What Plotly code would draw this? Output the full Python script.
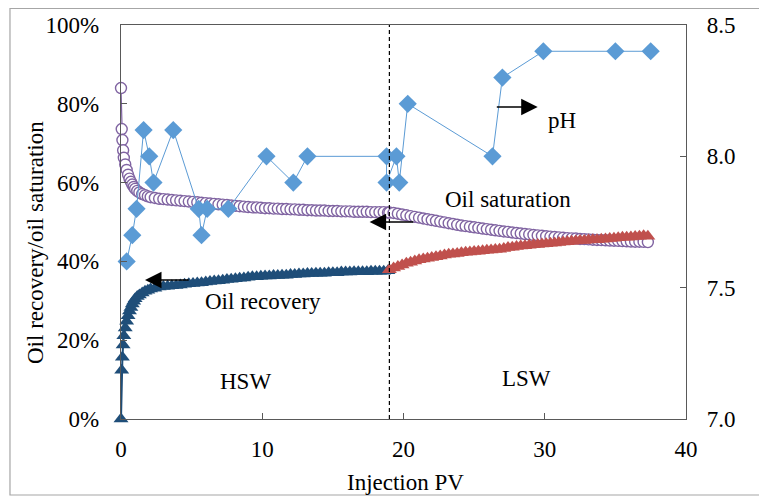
import plotly.graph_objects as go

# ---------------- data ----------------
pv_hsw = [0, 0.05, 0.1, 0.15, 0.2, 0.3, 0.4, 0.5, 0.6, 0.7, 0.8, 0.9, 1.0, 1.15, 1.3, 1.5, 1.7, 1.9, 2.1, 2.4,
          2.7, 3.0, 3.3, 3.6, 3.9, 4.2, 4.5, 4.8, 5.1, 5.4, 5.7, 6.0, 6.3, 6.6, 6.9, 7.2, 7.5, 7.8, 8.1, 8.4,
          8.7, 9.0, 9.3, 9.6, 9.9, 10.2, 10.5, 10.8, 11.1, 11.4, 11.7, 12.0, 12.3, 12.6, 12.9, 13.2, 13.5, 13.8, 14.1, 14.4,
          14.7, 15.0, 15.3, 15.6, 15.9, 16.2, 16.5, 16.8, 17.1, 17.4, 17.7, 18.0, 18.3, 18.6, 18.9]

sat_hsw = [84.0, 73.6, 70.8, 68.2, 66.3, 64.6, 63.2, 62.0, 61.0, 60.2, 59.5, 58.9, 58.4, 57.9, 57.5, 57.1, 56.8, 56.5, 56.3, 56.1,
           55.9, 55.8, 55.7, 55.6, 55.5, 55.4, 55.3, 55.2, 55.1, 55.0, 54.9, 54.8, 54.7, 54.6, 54.5, 54.4, 54.3, 54.2, 54.1, 54.0,
           53.9, 53.8, 53.7, 53.7, 53.6, 53.5, 53.5, 53.4, 53.4, 53.3, 53.3, 53.2, 53.2, 53.1, 53.1, 53.0, 53.0, 52.9, 52.9, 52.9,
           52.8, 52.8, 52.8, 52.7, 52.7, 52.7, 52.6, 52.6, 52.6, 52.6, 52.5, 52.5, 52.5, 52.5, 52.4]

rec_hsw = [0.0, 12.4, 15.7, 18.8, 21.1, 23.1, 24.8, 26.2, 27.4, 28.3, 29.2, 29.9, 30.5, 31.1, 31.5, 32.0, 32.4, 32.7, 33.0, 33.2,
           33.5, 33.6, 33.7, 33.8, 33.9, 34.0, 34.2, 34.3, 34.4, 34.5, 34.6, 34.8, 34.9, 35.0, 35.1, 35.2, 35.4, 35.5, 35.6, 35.7,
           35.8, 36.0, 36.1, 36.1, 36.2, 36.3, 36.3, 36.4, 36.4, 36.5, 36.5, 36.7, 36.7, 36.8, 36.8, 36.9, 36.9, 37.0, 37.0, 37.0,
           37.1, 37.1, 37.1, 37.3, 37.3, 37.3, 37.4, 37.4, 37.4, 37.4, 37.5, 37.5, 37.5, 37.5, 37.6]

pv_lsw = [19.0, 19.3, 19.6, 19.9, 20.2, 20.5, 20.8, 21.1, 21.4, 21.7, 22.0, 22.3, 22.6, 22.9, 23.2, 23.5, 23.8, 24.1, 24.4, 24.7,
          25.0, 25.3, 25.6, 25.9, 26.2, 26.5, 26.8, 27.1, 27.4, 27.7, 28.0, 28.3, 28.6, 28.9, 29.2, 29.5, 29.8, 30.1, 30.4, 30.7,
          31.0, 31.3, 31.6, 31.9, 32.2, 32.5, 32.8, 33.1, 33.4, 33.7, 34.0, 34.3, 34.6, 34.9, 35.2, 35.5, 35.8, 36.1, 36.4, 36.7,
          37.0, 37.3]

sat_lsw = [52.4, 52.3, 52.1, 51.9, 51.7, 51.5, 51.3, 51.1, 50.9, 50.7, 50.5, 50.3, 50.1, 49.9, 49.7, 49.5, 49.3, 49.1, 48.95, 48.8,
           48.65, 48.5, 48.35, 48.2, 48.05, 47.9, 47.75, 47.6, 47.5, 47.35, 47.2, 47.1, 46.95, 46.85, 46.7, 46.6, 46.5, 46.4, 46.3, 46.2,
           46.1, 46.0, 45.9, 45.85, 45.8, 45.7, 45.65, 45.6, 45.5, 45.45, 45.4, 45.35, 45.3, 45.25, 45.2, 45.15, 45.1, 45.05, 45.0, 45.0,
           44.95, 44.9]

rec_lsw = [37.9, 38.3, 38.7, 39.1, 39.5, 39.8, 40.1, 40.4, 40.6, 40.8, 41.0, 41.2, 41.4, 41.6, 41.8, 41.9, 42.0, 42.2, 42.3, 42.4,
           42.5, 42.6, 42.7, 42.8, 42.9, 43.0, 43.1, 43.3, 43.5, 43.6, 43.8, 43.9, 44.0, 44.1, 44.2, 44.3, 44.4, 44.5, 44.6, 44.7,
           44.8, 44.9, 45.0, 45.1, 45.2, 45.3, 45.3, 45.4, 45.5, 45.5, 45.6, 45.7, 45.8, 45.9, 46.0, 46.1, 46.1, 46.2, 46.3, 46.4,
           46.5, 46.4]

pv_ph = [0.4, 0.8, 1.1, 1.6, 2.0, 2.3, 3.7, 5.5, 5.7, 6.1, 7.6, 10.3, 12.2, 13.2, 18.8, 18.8, 19.5, 19.7, 20.3, 26.3,
         27.0, 29.9, 35.0, 37.5]
ph = [7.6, 7.7, 7.8, 8.1, 8.0, 7.9, 8.1, 7.8, 7.7, 7.8, 7.8, 8.0, 7.9, 8.0, 8.0, 7.9, 8.0, 7.9, 8.2, 8.0,
      8.3, 8.4, 8.4, 8.4]

switch_pv = 19.0

x_ticks = [0, 10, 20, 30, 40]
y_ticks = [0, 0.2, 0.4, 0.6, 0.8, 1.0]
ph_ticks = [7.0, 7.5, 8.0, 8.5]

# ---------------- styling ----------------
FONT = "'Liberation Serif', 'Times New Roman', Times, serif"
FS = 23
AX = "#595959"

fig = go.Figure()

circ = dict(symbol="circle", size=11, color="white", line=dict(color="#8064A2", width=1.4))
fig.add_trace(go.Scatter(
    x=pv_hsw, y=[v / 100 for v in sat_hsw], mode="lines+markers", name="Oil saturation HSW",
    line=dict(color="#8064A2", width=1.2), marker=circ, cliponaxis=False))
fig.add_trace(go.Scatter(
    x=pv_lsw, y=[v / 100 for v in sat_lsw], mode="lines+markers", name="Oil saturation LSW",
    line=dict(color="#8064A2", width=1.2), marker=circ, cliponaxis=False))
fig.add_trace(go.Scatter(
    x=pv_hsw, y=[v / 100 for v in rec_hsw], mode="lines+markers", name="Oil recovery HSW",
    line=dict(color="#1F4E79", width=2),
    marker=dict(symbol="triangle-up", size=13, color="#1F4E79"),
    cliponaxis=False))
fig.add_trace(go.Scatter(
    x=pv_lsw, y=[v / 100 for v in rec_lsw], mode="lines+markers", name="Oil recovery LSW",
    line=dict(color="#C0504D", width=2),
    marker=dict(symbol="triangle-up", size=13, color="#C0504D"),
    cliponaxis=False))
fig.add_trace(go.Scatter(
    x=pv_ph, y=ph, mode="lines+markers", name="pH", yaxis="y2",
    line=dict(color="#5B9BD5", width=1),
    marker=dict(symbol="diamond", size=14, color="#5B9BD5"),
    cliponaxis=False))

# dashed switch line
fig.add_shape(type="line", xref="x", yref="paper", x0=switch_pv, x1=switch_pv, y0=0, y1=1,
              line=dict(color="black", width=1.2, dash="4px,3px"))

# outer picture border
fig.add_shape(type="rect", xref="paper", yref="paper", x0=-0.1965, x1=1.3, y0=-0.1929, y1=1.0419,
              line=dict(color="#A6A6A6", width=1.2), fillcolor="rgba(0,0,0,0)", layer="below")

tf = dict(family=FONT, size=FS, color="black")

def arrow(xh, xt, y, yref="y"):
    fig.add_annotation(x=xh, y=y, ax=xt, ay=y, xref="x", yref=yref, axref="x", ayref=yref,
                       showarrow=True, arrowhead=2, arrowsize=2.2, arrowwidth=1.5, arrowcolor="black", text="")

arrow(1.7, 4.9, 0.353)
arrow(17.6, 20.8, 0.50)
arrow(29.5, 26.5, 0.792)

for txt, x, y in [("Oil recovery", 10.05, 0.297), ("Oil saturation", 27.4, 0.556), ("pH", 31.2, 0.757),
                  ("HSW", 8.8, 0.096), ("LSW", 28.7, 0.104)]:
    fig.add_annotation(x=x, y=y, xref="x", yref="y", text=txt, showarrow=False, font=tf,
                       xanchor="center", yanchor="middle")

# axis titles
fig.add_annotation(x=-0.1522, y=0.4467, xref="paper", yref="paper", text="Oil recovery/oil saturation",
                   showarrow=False, textangle=-90, font=tf, xanchor="center", yanchor="middle")
fig.add_annotation(x=0.5044, y=-0.1624, xref="paper", yref="paper", text="Injection PV",
                   showarrow=False, font=tf, xanchor="center", yanchor="middle")
# right axis title (partly cut at the picture edge, as in the reference)
fig.add_annotation(x=1.145, y=0.538, xref="paper", yref="paper", text="pH", showarrow=False,
                   textangle=-90, font=tf, xanchor="center", yanchor="middle")

axis_common = dict(showline=True, linecolor=AX, linewidth=1.3, ticks="inside", ticklen=6, tickcolor=AX,
                   tickwidth=1.3, showgrid=False, zeroline=False, tickfont=tf, automargin=False)

# the page body adds an 8px offset, so the figure is sized to fill the rest of the window
fig.update_layout(
    width=759, height=490,
    margin=dict(l=113, r=81, t=17, b=79, autoexpand=False),
    paper_bgcolor="white", plot_bgcolor="white",
    showlegend=False,
    font=dict(family=FONT, size=FS, color="black"),
    xaxis=dict(range=[0, 40], tickvals=x_ticks, mirror=True, ticklabelstandoff=9, **axis_common),
    yaxis=dict(range=[0, 1], tickvals=y_ticks, tickformat=".0%", mirror=True, ticklabelstandoff=16,
               **axis_common),
    yaxis2=dict(range=[7, 8.5], tickvals=ph_ticks, tickformat=".1f", overlaying="y", side="right",
                ticklabelstandoff=15, **axis_common),
)

fig.write_html("out.html")
